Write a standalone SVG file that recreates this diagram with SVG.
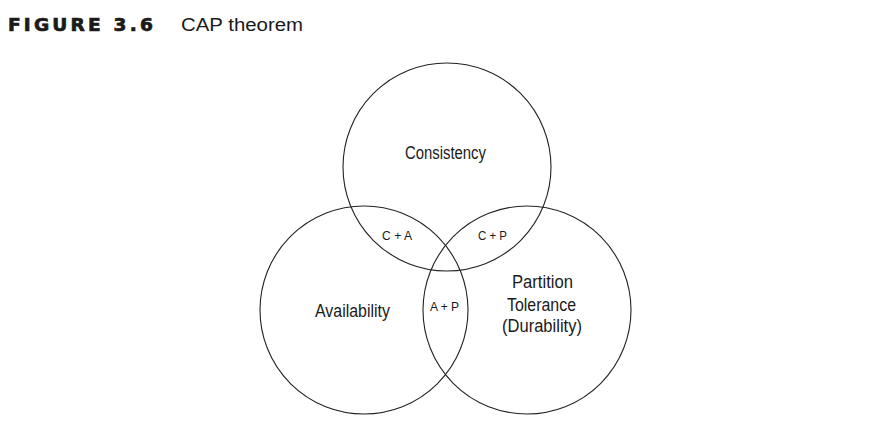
<svg xmlns="http://www.w3.org/2000/svg" width="880" height="448" viewBox="0 0 880 448">
<style>
.c{fill:none;stroke:#222;stroke-width:1.1}
.t{font-family:"Liberation Sans",Arial,sans-serif;fill:#1a1a1a;text-anchor:middle}
.big{font-size:17.5px}
.sm{font-size:12.5px}
</style>
<rect width="880" height="448" fill="#fff"/>
<g id="title">
<text x="8" y="30.5" font-family="'DejaVu Sans','Liberation Sans',sans-serif" font-weight="bold" font-size="17.5" fill="#1a1a1a" stroke="#1a1a1a" stroke-width="0.7" letter-spacing="3" textLength="148" lengthAdjust="spacingAndGlyphs">FIGURE 3.6</text>
<text x="181" y="31" font-family="'Liberation Sans',Arial,sans-serif" font-size="18" fill="#1a1a1a" textLength="122" lengthAdjust="spacingAndGlyphs">CAP theorem</text>
</g>
<g id="consistency">
<circle class="c" cx="447" cy="167" r="104"/>
<text class="t big" x="445.5" y="159" textLength="81" lengthAdjust="spacingAndGlyphs">Consistency</text>
</g>
<g id="availability">
<circle class="c" cx="364" cy="310" r="104"/>
<text class="t big" x="352.5" y="317" textLength="75" lengthAdjust="spacingAndGlyphs">Availability</text>
</g>
<g id="partition">
<circle class="c" cx="527" cy="310" r="104"/>
<text class="t big" x="542.5" y="288" textLength="61" lengthAdjust="spacingAndGlyphs">Partition</text>
<text class="t big" x="541.5" y="310.5" textLength="69" lengthAdjust="spacingAndGlyphs">Tolerance</text>
<text class="t big" x="542" y="332" textLength="80" lengthAdjust="spacingAndGlyphs">(Durability)</text>
</g>
<g id="overlaps">
<text class="t sm" x="397" y="239.5" textLength="30" lengthAdjust="spacingAndGlyphs">C + A</text>
<text class="t sm" x="492.5" y="239.5" textLength="29" lengthAdjust="spacingAndGlyphs">C + P</text>
<text class="t sm" x="444.5" y="311" textLength="29" lengthAdjust="spacingAndGlyphs">A + P</text>
</g>
<g id="connectors"></g>
</svg>
